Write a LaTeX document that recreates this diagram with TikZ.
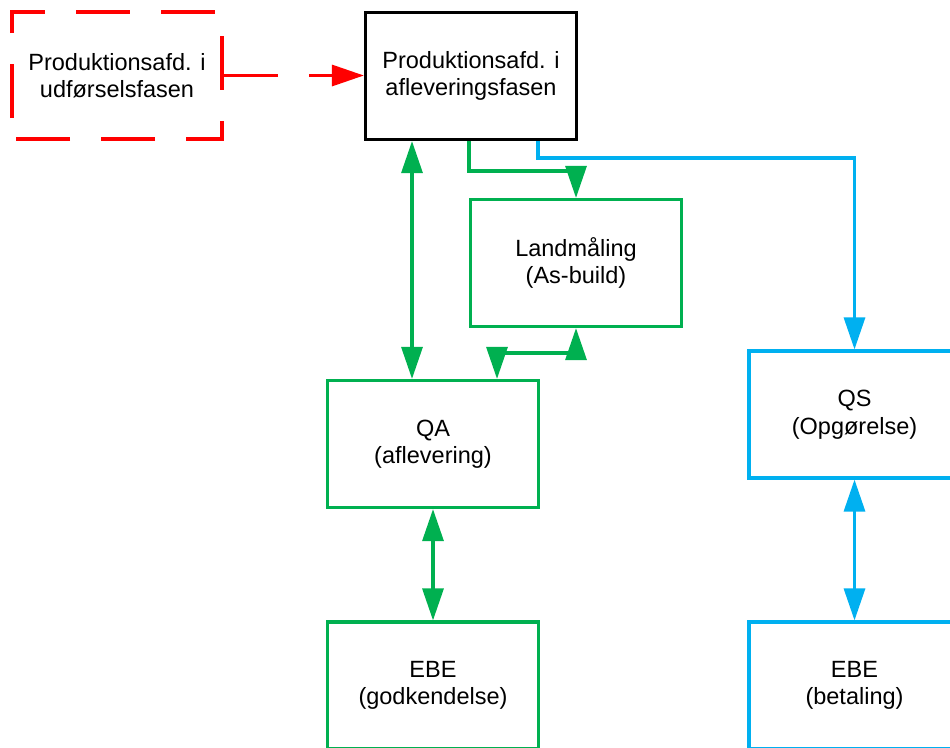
\documentclass[tikz,border=0pt]{standalone}
\usepackage{fontspec}
\setmainfont{Liberation Sans}
\usetikzlibrary{arrows.meta}

\definecolor{redline}{HTML}{FF0000}
\definecolor{greenline}{HTML}{00B050}
\definecolor{blueline}{HTML}{00B0F0}

\tikzset{
  box/.style={draw, line width=3.2pt, inner sep=0pt, align=center,
    minimum width=211pt, minimum height=127pt,
    font=\fontsize{23.5}{27.5}\selectfont},
  tip/.tip={Triangle[length=32pt, width=21pt]},
  link/.style={line width=3.2pt},
  redlink/.style={link, draw=redline, dash pattern=on 54pt off 31pt},
  greenlink/.style={link, draw=greenline},
  bluelink/.style={link, draw=blueline}
}

\begin{document}
\begin{tikzpicture}[x=1pt, y=-1pt]
  \useasboundingbox (0,0) rectangle (950,747);
  \clip (0,0) rectangle (950,747);

  % department boxes
  \node[box, draw=none] (red) at (117,75.5) {Produktionsafd. i\\udførselsfasen};
  \draw[line width=3.2pt, redline, dash pattern=on 54pt off 31pt]
    (12,118) -- (12,12) -- (222,12) -- (222,139) -- (12,139) -- (12,118);
  \node[box, draw=black] (prod) at (471,76) {Produktionsafd. i\\afleveringsfasen};

  % green branch
  \node[box, draw=greenline] (land) at (576,263) {Landmåling\\(As-build)};
  \node[box, draw=greenline] (qa) at (433,444) {QA\\(aflevering)};
  \node[box, draw=greenline] (ebeg) at (433,685.5) {EBE\\(godkendelse)};

  % blue branch
  \node[box, draw=blueline] (qs) at (854.5,414.5) {QS\\(Opgørelse)};
  \node[box, draw=blueline] (ebeb) at (854.5,685.5) {EBE\\(betaling)};

  % waypoints of the connectors
  \coordinate (gx) at (412,0);
  \coordinate (g1) at (576,171);
  \coordinate (g2) at (497,353);
  \coordinate (bx) at (538,0);
  \coordinate (b1) at (854.5,158);

  % red hand-over
  \draw[redlink, -{tip[fill=redline]}] (red.east) -- (red.east -| prod.west);

  % green connectors
  \draw[greenlink, {tip}-{tip}] (prod.south -| gx) -- (qa.north -| gx);
  \draw[greenlink, -{tip}] (prod.south -| land.west) |- (g1) -- (land.north);
  \draw[greenlink, {tip}-{tip}] (land.south) |- (g2) -- (qa.north -| g2);
  \draw[greenlink, {tip}-{tip}] (qa.south) -- (ebeg.north);

  % blue connectors
  \draw[bluelink, -{tip}] (prod.south -| bx) |- (b1) -- (qs.north);
  \draw[bluelink, {tip}-{tip}] (qs.south) -- (ebeb.north);
\end{tikzpicture}
\end{document}
